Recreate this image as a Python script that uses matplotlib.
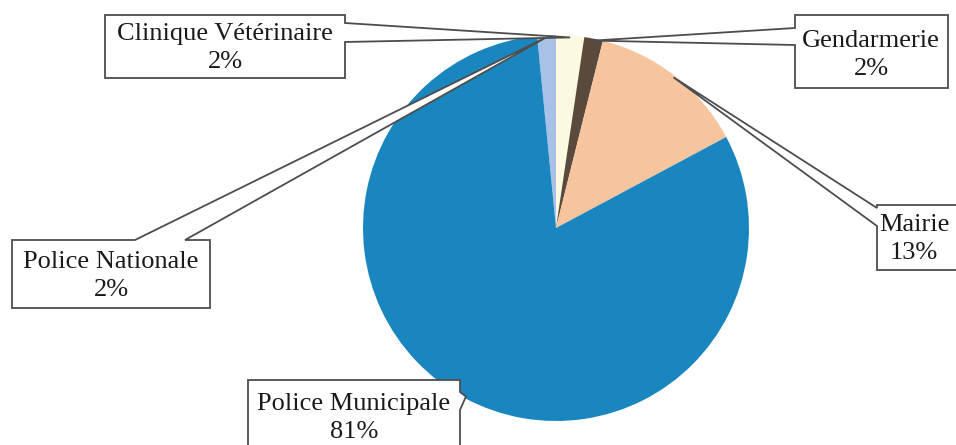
import numpy as np
import matplotlib.pyplot as plt
from matplotlib.patches import Polygon

# data
labels = ['Police Nationale', 'Clinique Vétérinaire', 'Gendarmerie', 'Mairie', 'Police Municipale']
counts = [2, 3, 2, 17, 104]
colors = ['#a9c1e8', '#fbf9df', '#5a4a3d', '#f6c59e', '#1a86bf']

total = sum(counts)
pcts = [round(100 * c / total) for c in counts]

# layout in pixels (figure 956x445), pie centre and radius
W, H = 956, 445
cx, cy, R = 556, 228, 193

def px(x, y):
    return ((x - cx) / R, (cy - y) / R)

# box rect (x0, y0, x1, y1) in px, notch side and notch span, text centre
boxes = [
    dict(rect=(12, 240, 210, 308), side='top', span=(135, 185), text=(111, 276)),
    dict(rect=(105, 15, 345, 78), side='right', span=(23, 42), text=(225, 48)),
    dict(rect=(795, 15, 948, 88), side='left', span=(28, 45), text=(871, 55)),
    dict(rect=(877, 205, 970, 270), side='left', span=(208, 226), text=(914, 239)),
    dict(rect=(248, 380, 460, 460), side='right', span=(392, 410), text=(354, 418)),
]

fig = plt.figure(figsize=(W / 100, H / 100), dpi=100)
ax = fig.add_axes([0, 0, 1, 1])

wedges, _ = ax.pie(counts, colors=colors, startangle=90 + 360 * counts[0] / total,
                   counterclock=False, radius=1, center=(0, 0),
                   wedgeprops=dict(linewidth=0))
ax.set_xlim(-cx / R, (W - cx) / R)
ax.set_ylim((cy - H) / R, cy / R)
ax.set_aspect('auto')
ax.axis('off')

for w, lab, p, b in zip(wedges, labels, pcts, boxes):
    mid = np.deg2rad((w.theta1 + w.theta2) / 2)
    apex = (0.99 * np.cos(mid), 0.99 * np.sin(mid))
    x0, y0, x1, y1 = b['rect']
    a, c = b['span']
    if b['side'] == 'top':
        pts = [px(x0, y0), px(a, y0), apex, px(c, y0), px(x1, y0), px(x1, y1), px(x0, y1)]
    elif b['side'] == 'right':
        pts = [px(x0, y0), px(x1, y0), px(x1, a), apex, px(x1, c), px(x1, y1), px(x0, y1)]
    else:
        pts = [px(x0, y0), px(x1, y0), px(x1, y1), px(x0, y1), px(x0, c), apex, px(x0, a)]
    ax.add_patch(Polygon(pts, closed=True, facecolor='white', edgecolor='#4d4d4d',
                         linewidth=1.3, zorder=3))
    tx, ty = px(*b['text'])
    ax.text(tx, ty, f'{lab}\n{p}%', ha='center', va='center', fontsize=19,
            family='Liberation Serif', color='#1a1a1a', linespacing=1.3, zorder=4)

fig.savefig('out.png', dpi=100)
